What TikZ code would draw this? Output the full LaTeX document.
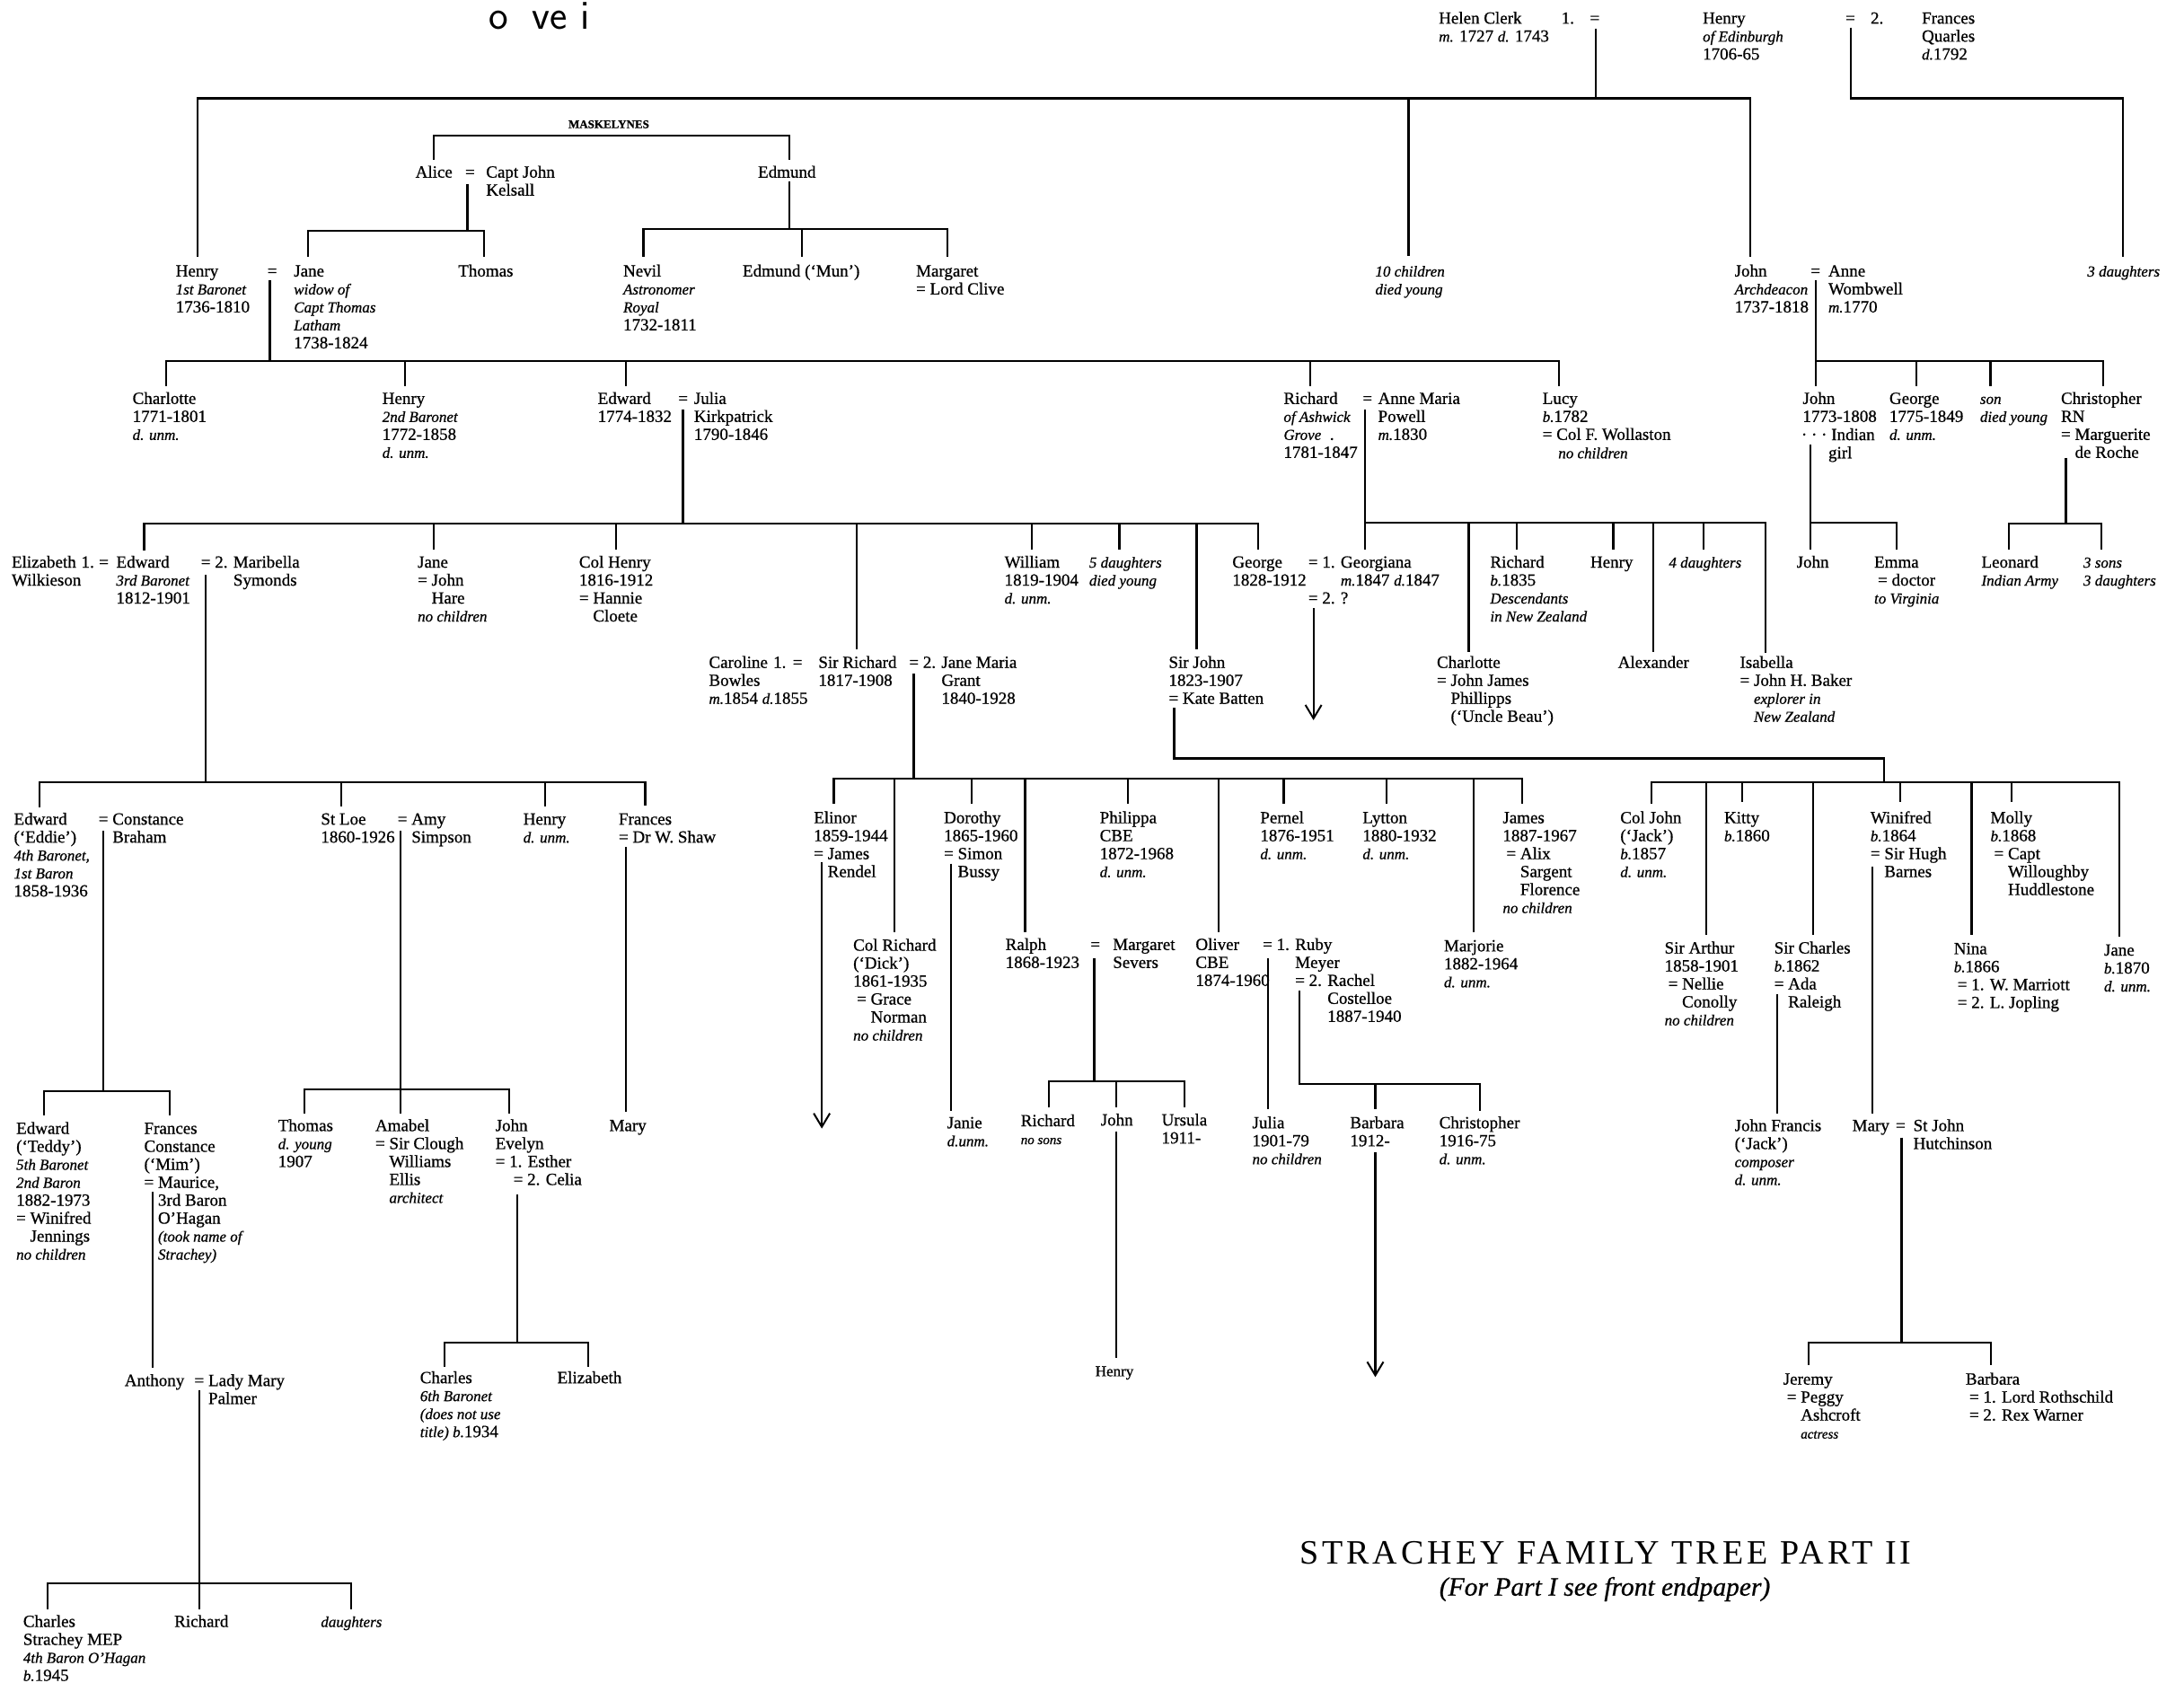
\documentclass[tikz,border=0pt]{standalone}
\usepackage{fontspec}
\setmainfont{Liberation Serif}[FakeBold=0.7]
\newfontfamily\titlefont{Liberation Serif}[LetterSpace=10.5]
\usetikzlibrary{arrows.meta}
\newcommand\bodyf{\fontsize{19}{20}\selectfont}
\newcommand\itx{\fontsize{17}{20}\selectfont\itshape}
\newcommand\smallit{\fontsize{15}{20}\selectfont\itshape}
\newcommand\eqp{\phantom{= }}
\newcommand\tbk[1]{\begin{tabular}[t]{@{}l@{}}#1\end{tabular}}
\newcommand\TX[4][tx]{\node[#1] (#2) at (#3) {\tbk{#4}};}
\begin{document}
\begin{tikzpicture}[x=1.551pt,y=-1.551pt,
  tx/.style={anchor=base west,inner sep=0pt,outer sep=0pt,font=\bodyf},
  txi/.style={tx,font=\itx},
  ln/.style={line width=2.2pt},
  arr/.style={ln,-{Straight Barb[length=15pt,width=18pt,line width=2pt]}}]
\fill[white] (0,0) rectangle (1568,1208);
\useasboundingbox (0,0) rectangle (1568,1208);

\node[anchor=base west,inner sep=0pt] (ovei) at (351,21) {\sffamily\fontsize{46}{46}\selectfont o\hspace{26pt}v\hspace{0pt}e\hspace{15pt}i};

% ---------- top generation
\TX{helen}{1033,17}{Helen Clerk\\{\itx m.} 1727 {\itx d.} 1743}
\TX{one1}{1121,17}{1.}
\TX{eq1}{1141.5,17}{=}
\TX{henryE}{1222.5,17}{Henry\\{\itx of Edinburgh}\\1706-65}
\TX{eq2}{1325,17}{=}
\TX{two2}{1343,17}{2.}
\TX{frances}{1379.8,17}{Frances\\Quarles\\{\itx d.}1792}

\node[anchor=base west,inner sep=0pt] (mask) at (408,92) {\fontsize{13}{14}\selectfont\bfseries MASKELYNES};
\TX{alice}{298.3,127.5}{Alice}
\TX{eqA}{334,127.5}{=}
\TX{kelsall}{349,127.5}{Capt John\\Kelsall}
\TX{edmund}{544.2,127.5}{Edmund}

% ---------- row 1
\TX{henry1}{126.2,198.5}{Henry\\{\itx 1st Baronet}\\1736-1810}
\TX{eqH1}{192,198.5}{=}
\TX{jane1}{211,198.5}{Jane\\{\itx widow of}\\{\itx Capt Thomas}\\{\itx Latham}\\1738-1824}
\TX{thomas1}{329,198.5}{Thomas}
\TX{nevil}{447.5,198.5}{Nevil\\{\itx Astronomer}\\{\itx Royal}\\1732-1811}
\TX{mun}{533.2,198.5}{Edmund (`Mun')}
\TX{margaret}{657.7,198.5}{Margaret\\= Lord Clive}
\TX[txi]{tenchild}{987.4,198.5}{10 children\\died young}
\TX{johnA}{1245.4,198.5}{John\\{\itx Archdeacon}\\1737-1818}
\TX{eqJA}{1300,198.5}{=}
\TX{anne}{1312.7,198.5}{Anne\\Wombwell\\{\itx m.}1770}
\TX[txi]{threed}{1498.6,198.5}{3 daughters}

% ---------- row 2
\TX{charlotte}{95.2,290}{Charlotte\\1771-1801\\{\itx d. unm.}}
\TX{henry2}{274.5,290}{Henry\\{\itx 2nd Baronet}\\1772-1858\\{\itx d. unm.}}
\TX{edward1}{429.2,290}{Edward\\1774-1832}
\TX{eqE1}{487,290}{=}
\TX{julia}{498.3,290}{Julia\\Kirkpatrick\\1790-1846}
\TX{richardA}{921.6,290}{Richard\\{\itx of Ashwick}\\{\itx Grove}\enspace.\\1781-1847}
\TX{eqRA}{978.3,290}{=}
\TX{annemaria}{989.4,290}{Anne Maria\\Powell\\{\itx m.}1830}
\TX{lucy}{1107.5,290}{Lucy\\{\itx b.}1782\\= Col F. Wollaston}
\TX[txi]{lucync}{1118.8,329}{no children}
\TX{johnB}{1294.3,290}{John\\1773-1808}
\TX{indian}{1293.3,316}{· · · Indian}
\TX{girl}{1312.7,329}{girl}
\TX{georgeB}{1356.5,290}{George\\1775-1849\\{\itx d. unm.}}
\TX[txi]{sonB}{1421.6,290}{son\\died young}
\TX{christB}{1479.7,290}{Christopher\\RN\\= Marguerite\\\eqp de Roche}

% ---------- row 3
\TX{johnC}{1289.9,407.5}{John}
\TX{emma}{1345.6,407.5}{Emma\\\hspace{4pt}= doctor\\{\itx to Virginia}}
\TX{leonard}{1422.6,407.5}{Leonard\\{\itx Indian Army}}
\TX[txi]{threesons}{1495.8,407.5}{3 sons\\3 daughters}
\TX{elizabeth}{8.4,407.5}{Elizabeth\\Wilkieson}
\TX{one3}{58.4,407.5}{1.}
\TX{eq3}{71.1,407.5}{=}
\TX{edward3}{83.5,407.5}{Edward\\{\itx 3rd Baronet}\\1812-1901}
\TX{maribella}{144.3,407.5}{= 2. Maribella\\\phantom{= 2. }Symonds}
\TX{jane2}{299.9,407.5}{Jane\\= John\\\eqp Hare\\{\itx no children}}
\TX{colhenry}{415.8,407.5}{Col Henry\\1816-1912\\= Hannie\\\eqp Cloete}
\TX{william}{721.2,407.5}{William\\1819-1904\\{\itx d. unm.}}
\TX[txi]{fived}{782,407.5}{5 daughters\\died young}
\TX{george2}{884.8,407.5}{George\\1828-1912}
\TX{georgiana}{939.3,407.5}{= 1. Georgiana\\\phantom{= 1. }{\itx m.}1847 {\itx d.}1847\\= 2. ?}
\TX{richardB}{1069.9,407.5}{Richard\\{\itx b.}1835\\{\itx Descendants}\\{\itx in New Zealand}}
\TX{henryB}{1141.8,407.5}{Henry}
\TX[txi]{fourd}{1198.2,407.5}{4 daughters}

% ---------- row 4
\TX{caroline}{509,479.5}{Caroline\\Bowles\\{\itx m.}1854 {\itx d.}1855}
\TX{one4}{555.2,479.5}{1.}
\TX{eq4}{569.2,479.5}{=}
\TX{sirrichard}{587.6,479.5}{Sir Richard\\1817-1908}
\TX{janemaria}{652.7,479.5}{= 2. Jane Maria\\\phantom{= 2. }Grant\\\phantom{= 2. }1840-1928}
\TX{sirjohn}{839.1,479.5}{Sir John\\1823-1907\\= Kate Batten}
\TX{charlotte2}{1031.6,479.5}{Charlotte\\= John James\\\eqp Phillipps\\\eqp (`Uncle Beau')}
\TX{alexander}{1161.6,479.5}{Alexander}
\TX{isabella}{1249.2,479.5}{Isabella\\= John H. Baker\\\eqp{\itx explorer in}\\\eqp{\itx New Zealand}}

% ---------- row 5
\TX{eddie}{10,592}{Edward\\(`Eddie')\\{\itx 4th Baronet,}\\{\itx 1st Baron}\\1858-1936}
\TX{constance}{70.8,592}{= Constance\\\eqp Braham}
\TX{stloe}{230.4,592}{St Loe\\1860-1926}
\TX{amy}{285.5,592}{= Amy\\\eqp Simpson}
\TX{henryC}{375.7,592}{Henry\\{\itx d. unm.}}
\TX{frances2}{444.2,592}{Frances\\= Dr W. Shaw}
\TX{elinor}{584.3,591}{Elinor\\1859-1944\\= James\\\eqp Rendel}
\TX{dorothy}{677.7,591}{Dorothy\\1865-1960\\= Simon\\\eqp Bussy}
\TX{philippa}{789.6,591}{Philippa\\CBE\\1872-1968\\{\itx d. unm.}}
\TX{pernel}{904.8,591}{Pernel\\1876-1951\\{\itx d. unm.}}
\TX{lytton}{978.3,591}{Lytton\\1880-1932\\{\itx d. unm.}}
\TX{james}{1078.9,591}{James\\1887-1967\\\hspace{4pt}= Alix\\\hspace{4pt}\eqp Sargent\\\hspace{4pt}\eqp Florence\\{\itx no children}}
\TX{coljohn}{1163.3,591}{Col John\\(`Jack')\\{\itx b.}1857\\{\itx d. unm.}}
\TX{kitty}{1237.9,591}{Kitty\\{\itx b.}1860}
\TX{winifred}{1342.9,591}{Winifred\\{\itx b.}1864\\= Sir Hugh\\\eqp Barnes}
\TX{molly}{1429.1,591}{Molly\\{\itx b.}1868\\\hspace{4pt}= Capt\\\hspace{4pt}\eqp Willoughby\\\hspace{4pt}\eqp Huddlestone}

% ---------- row 6
\TX{colrichard}{612.6,682.5}{Col Richard\\(`Dick')\\1861-1935\\\hspace{4pt}= Grace\\\hspace{4pt}\eqp Norman\\{\itx no children}}
\TX{ralph}{721.9,682}{Ralph\\1868-1923}
\TX{eqR}{782.9,682}{=}
\TX{margaret2}{799,682}{Margaret\\Severs}
\TX{oliver}{858.4,682}{Oliver\\CBE\\1874-1960}
\TX{ruby}{906.6,682}{= 1. Ruby\\\phantom{= 1. }Meyer\\\phantom{= 1. }= 2. Rachel\\\phantom{= 1. = 2. }Costelloe\\\phantom{= 1. = 2. }1887-1940}
\TX{marjorie}{1036.7,683}{Marjorie\\1882-1964\\{\itx d. unm.}}
\TX{sirarthur}{1195.1,684.5}{Sir Arthur\\1858-1901\\\hspace{4pt}= Nellie\\\hspace{4pt}\eqp Conolly\\{\itx no children}}
\TX{sircharles}{1273.8,684.5}{Sir Charles\\{\itx b.}1862\\= Ada\\\eqp Raleigh}
\TX{nina}{1402.8,685}{Nina\\{\itx b.}1866\\\hspace{4pt}= 1. W. Marriott\\\hspace{4pt}= 2. L. Jopling}
\TX{jane3}{1510.6,686}{Jane\\{\itx b.}1870\\{\itx d. unm.}}

% ---------- row 7
\TX{teddy}{11.7,814}{Edward\\(`Teddy')\\{\itx 5th Baronet}\\{\itx 2nd Baron}\\1882-1973\\= Winifred\\\eqp Jennings\\{\itx no children}}
\TX{mim}{103.5,814}{Frances\\Constance\\(`Mim')\\= Maurice,\\\eqp 3rd Baron\\\eqp O'Hagan\\\eqp{\itx (took name of}\\\eqp{\itx Strachey)}}
\TX{thomas2}{199.7,812}{Thomas\\{\itx d. young}\\1907}
\TX{amabel}{269.5,812}{Amabel\\= Sir Clough\\\eqp Williams\\\eqp Ellis\\\eqp{\itx architect}}
\TX{johnE}{355.7,812}{John\\Evelyn\\= 1. Esther\\\hspace{20pt}= 2. Celia}
\TX{mary1}{437.5,812}{Mary}
\TX{janie}{680,810}{Janie\\{\itx d.unm.}}
\TX{richardR}{732.9,808.5}{Richard\\{\smallit no sons}}
\TX{johnR}{790.3,808}{John}
\TX{ursula}{834,808}{Ursula\\1911-}
\TX{julia2}{899.1,810}{Julia\\1901-79\\{\itx no children}}
\TX{barbara1}{969.3,810}{Barbara\\1912-}
\TX{christC}{1033.3,810}{Christopher\\1916-75\\{\itx d. unm.}}
\TX{johnF}{1245.4,812}{John Francis\\(`Jack')\\{\itx composer}\\{\itx d. unm.}}
\TX{mary2}{1329.9,812}{Mary}
\TX{eqM}{1361,812}{=}
\TX{stjohn}{1373.7,812}{St John\\Hutchinson}

% ---------- row 8
\TX{anthony}{89.5,995}{Anthony}
\TX{eqAn}{139.6,995}{=}
\TX{ladymary}{149.6,995}{Lady Mary\\Palmer}
\TX{charles6}{301.6,993}{Charles\\{\itx 6th Baronet}\\{\itx (does not use}\\{\itx title) b.}1934}
\TX{elizabeth2}{400.1,993}{Elizabeth}
\node[anchor=base west,inner sep=0pt] (henrysm) at (786.3,988) {\fontsize{17}{20}\selectfont Henry};
\TX{jeremy}{1280.3,994}{Jeremy\\\hspace{4pt}= Peggy\\\hspace{4pt}\eqp Ashcroft\\\hspace{4pt}\eqp{\smallit actress}}
\TX{barbara2}{1411.3,994}{Barbara\\\hspace{4pt}= 1. Lord Rothschild\\\hspace{4pt}= 2. Rex Warner}

% ---------- row 9
\TX{charlesM}{16.7,1168}{Charles\\Strachey MEP\\{\itx 4th Baron O'Hagan}\\{\itx b.}1945}
\TX{richardM}{125.2,1168}{Richard}
\TX[txi]{daughtersM}{230.4,1168}{daughters}

% ---------- title
\node[anchor=base west,inner sep=0pt] (title) at (933,1123) {\titlefont\fontsize{38}{40}\selectfont STRACHEY FAMILY TREE PART II};
\node[anchor=base west,inner sep=0pt] (subtitle) at (1033.3,1145.5) {\fontsize{29.5}{32}\selectfont\itshape (For Part I see front endpaper)};

% ================= connectors
\draw[ln] (1145.5,20.5) -- (1145.5,70.6);
\draw[ln] (141.9,184.4) -- (141.9,70.6) -- (1256.7,70.6) -- (1256.7,184.4);
\draw[ln] (1011.2,70.6) -- (1011.2,183.7);
\draw[ln] (1328.6,19.8) -- (1328.6,70.6) -- (1524.2,70.6) -- (1524.2,184.4);
% maskelynes
\draw[ln] (311.3,115) -- (311.3,97.2) -- (566.5,97.2) -- (566.5,115);
\draw[ln] (335.6,132) -- (335.6,165.5);
\draw[ln] (221.1,184.4) -- (221.1,165.5) -- (347.3,165.5) -- (347.3,184.4);
\draw[ln] (566.5,130) -- (566.5,164.4);
\draw[ln] (461.9,184.4) -- (461.9,164.4) -- (680,164.4) -- (680,184.4);
\draw[ln] (575.9,164.4) -- (575.9,184.4);
% Henry 1st Baronet
\draw[ln] (193.7,201) -- (193.7,259.4);
\draw[ln] (119.5,277.2) -- (119.5,259.4) -- (1119.5,259.4) -- (1119.5,277.2);
\foreach \x in {290.6,449.2,940.6} \draw[ln] (\x,259.4) -- (\x,277.2);
% Archdeacon
\draw[ln] (1303.5,201) -- (1303.5,277.2);
\draw[ln] (1303.5,259.4) -- (1509.9,259.4) -- (1509.9,277.2);
\foreach \x in {1376,1429.1} \draw[ln] (\x,259.4) -- (\x,277.2);
\draw[ln] (1300,319) -- (1300,394.4);
\draw[ln] (1300,375) -- (1361.7,375) -- (1361.7,394.4);
\draw[ln] (1483.2,328.8) -- (1483.2,376);
\draw[ln] (1442,394.4) -- (1442,376) -- (1508.8,376) -- (1508.8,394.4);
% Edward 1774
\draw[ln] (490.3,294) -- (490.3,376);
\draw[ln] (103.5,395) -- (103.5,376) -- (903.1,376) -- (903.1,394.4);
\foreach \x in {311.3,442.5,740.6,803.7} \draw[ln] (\x,376) -- (\x,394.4);
\foreach \x in {615.3,859.1} \draw[ln] (\x,376) -- (\x,466.4);
% Ashwick
\draw[ln] (980,294) -- (980,394.4);
\draw[ln] (980,375) -- (1267.6,375) -- (1267.6,468.5);
\foreach \x in {1089,1158.2,1223.2} \draw[ln] (\x,375) -- (\x,394.4);
\foreach \x in {1054.5,1187.2} \draw[ln] (\x,375) -- (\x,468);
\draw[arr] (943,436.5) -- (943,517);
% Edward 3rd Baronet
\draw[ln] (147.6,412.6) -- (147.6,561.4);
\draw[ln] (28.4,579.5) -- (28.4,561.4) -- (463.2,561.4) -- (463.2,578.5);
\foreach \x in {244.8,391.4} \draw[ln] (\x,561.4) -- (\x,579);
% Sir Richard
\draw[ln] (656,483.5) -- (656,558.8);
\draw[ln] (598.6,577) -- (598.6,558.8) -- (1093,558.8) -- (1093,577);
\foreach \x in {697.6,809.7,921.6,995.6} \draw[ln] (\x,558.8) -- (\x,577);
\foreach \x in {642,736,875,1058} \draw[ln] (\x,558.8) -- (\x,669.5);
% Sir John
\draw[ln] (843,508.3) -- (843,544.5) -- (1352.4,544.5) -- (1352.4,561.4);
\draw[ln] (1185.5,577) -- (1185.5,561.4) -- (1521.5,561.4) -- (1521.5,672.6);
\foreach \x in {1250.6,1364,1444} \draw[ln] (\x,561.4) -- (\x,576);
\foreach \x in {1224.9,1301.9,1415.5} \draw[ln] (\x,561.4) -- (\x,671);
% Sir Richard's grandchildren
\draw[arr] (590,619) -- (590,810.2);
\draw[ln] (682.7,620) -- (682.7,797.5);
\draw[ln] (785.6,687.7) -- (785.6,776.3);
\draw[ln] (752.8,795.2) -- (752.8,776.3) -- (850.4,776.3) -- (850.4,795.2);
\draw[ln] (801.6,776.3) -- (801.6,795.2);
\draw[ln] (801.6,812.4) -- (801.6,974.6);
\draw[ln] (910.6,688) -- (910.6,796.3);
\draw[ln] (932.8,711.4) -- (932.8,778) -- (1062.4,778) -- (1062.4,797.3);
\draw[ln] (987.4,778) -- (987.4,796.3);
\draw[arr] (987.4,827.4) -- (987.4,988.6);
% Sir John's grandchildren
\draw[ln] (1344,622.2) -- (1344,799.5);
\draw[ln] (1365.2,816.7) -- (1365.2,963.9);
\draw[ln] (1298.5,980) -- (1298.5,963.9) -- (1429.5,963.9) -- (1429.5,980);
\draw[ln] (1275.9,713.5) -- (1275.9,799.5);
% left branch
\draw[ln] (74.1,596.4) -- (74.1,783.4);
\draw[ln] (31.7,800.6) -- (31.7,783.4) -- (121.9,783.4) -- (121.9,800.6);
\draw[ln] (287.8,596.5) -- (287.8,782.3);
\draw[ln] (218.7,799.5) -- (218.7,782.3) -- (365.6,782.3) -- (365.6,799.5);
\draw[ln] (287.8,782.3) -- (287.8,799.5);
\draw[ln] (449.2,608.2) -- (449.2,798.4);
\draw[ln] (109.5,855.4) -- (109.5,982.1);
\draw[ln] (371.4,857.5) -- (371.4,963.9);
\draw[ln] (318.9,981) -- (318.9,963.9) -- (422.4,963.9) -- (422.4,981);
\draw[ln] (142.9,998.3) -- (142.9,1136.9);
\draw[ln] (34.4,1155.2) -- (34.4,1136.9) -- (252,1136.9) -- (252,1155.2);
\draw[ln] (142.9,1136.9) -- (142.9,1155.2);
\end{tikzpicture}
\end{document}
